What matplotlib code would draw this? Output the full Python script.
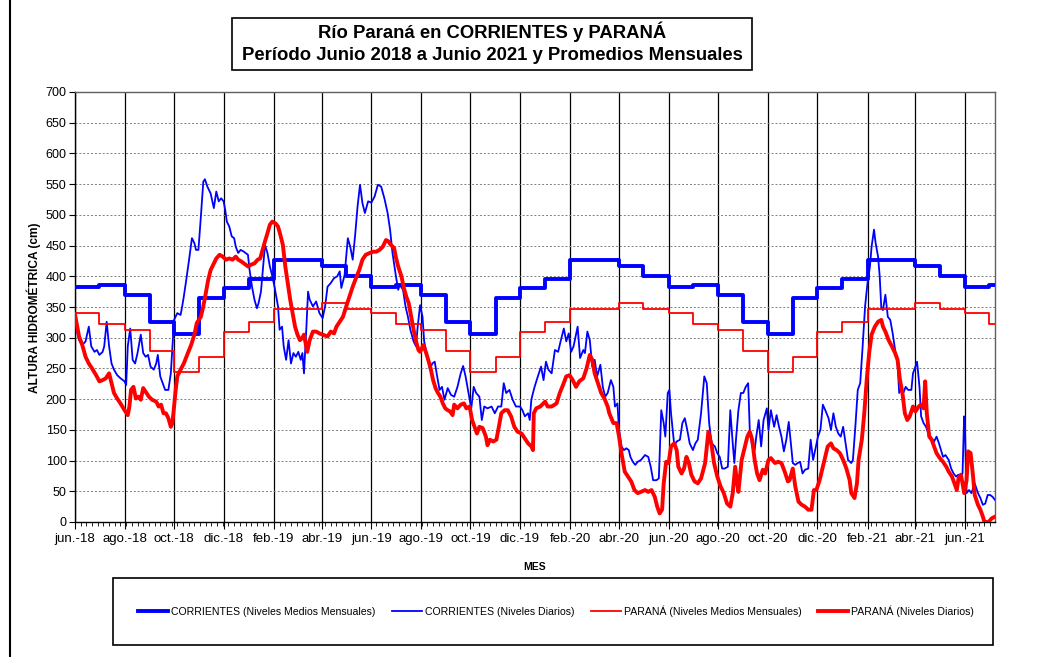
import numpy as np
import matplotlib
matplotlib.use("Agg")
import matplotlib.pyplot as plt
from matplotlib.patches import Rectangle
from matplotlib.lines import Line2D

plt.rcParams['font.family'] = ['Liberation Sans', 'DejaVu Sans']

# ---------------- data ----------------
inicio = np.datetime64('2018-06-01')
fin_dias = 1133  # last day shown (offset from inicio)

meses_abrev = ['ene', 'feb', 'mar', 'abr', 'may', 'jun', 'jul', 'ago', 'sep', 'oct', 'nov', 'dic']

# Monthly mean levels (cm) by calendar month, Jan..Dec
corrientes_medio_mensual = [396, 427, 427, 416, 400, 383, 386, 369, 326, 306, 365, 381]
parana_medio_mensual = [326, 347, 347, 356, 347, 341, 323, 312, 278, 245, 269, 309]

# Daily levels (days since 2018-06-01, level in cm)
cor_dias = [0, 5, 9, 13, 17, 20, 24, 27, 30, 34, 36, 39, 42, 45, 48, 52, 56, 61, 63, 65, 68, 71, 74, 77, 81, 84, 87, 90, 93, 97,
            100, 102, 105, 108, 111, 115, 118, 120, 122, 126, 130, 132, 134, 137, 141, 144, 147, 149, 152, 155, 158, 160, 163,
            167, 171, 174, 177, 180, 183, 185, 187, 190, 193, 196, 198, 201, 204, 208, 213, 215, 218, 221, 224, 226, 229, 231,
            234, 237, 240, 243, 246, 250, 252, 255, 257, 260, 263, 266, 269, 272, 275, 278, 280, 282, 285, 287, 289, 293, 297,
            301, 305, 308, 311, 315, 319, 323, 326, 328, 332, 334, 336, 339, 342, 345, 348, 351, 354, 357, 361, 365, 369, 373,
            377, 381, 385, 388, 391, 395, 398, 400, 404, 407, 410, 413, 417, 420, 422, 425, 428, 430, 434, 437, 440, 443, 446,
            449, 452, 455, 459, 463, 467, 471, 475, 478, 481, 484, 488, 491, 494, 498, 501, 504, 508, 513, 517, 521, 525, 528,
            531, 535, 539, 543, 548, 551, 554, 558, 560, 562, 564, 566, 570, 574, 577, 580, 583, 587, 591, 595, 598, 602, 605,
            608, 611, 614, 619, 622, 626, 628, 631, 634, 637, 640, 643, 647, 650, 653, 656, 660, 663, 665, 668, 670, 673, 676,
            679, 682, 684, 687, 690, 693, 697, 702, 706, 709, 712, 716, 719, 722, 725, 727, 730, 732, 734, 738, 741, 745, 748,
            751, 754, 757, 761, 764, 767, 771, 775, 778, 781, 784, 788, 791, 794, 797, 800, 804, 807, 810, 812, 814, 817, 820,
            823, 826, 829, 831, 834, 837, 839, 842, 845, 848, 852, 854, 857, 861, 864, 867, 870, 873, 876, 879, 882, 884, 887,
            890, 893, 896, 899, 903, 906, 909, 912, 915, 918, 921, 924, 928, 931, 934, 937, 940, 943, 946, 949, 952, 956, 958,
            961, 964, 967, 970, 973, 976, 979, 981, 984, 986, 989, 991, 993, 995, 998, 1001, 1004, 1007, 1010, 1013, 1015, 1017,
            1020, 1023, 1026, 1030, 1032, 1035, 1037, 1040, 1042, 1045, 1048, 1051, 1055, 1058, 1061, 1064, 1067, 1069, 1072,
            1076, 1079, 1082, 1085, 1088, 1091, 1093, 1095, 1096, 1098, 1101, 1104, 1108, 1112, 1115, 1118, 1121, 1124, 1127,
            1130, 1133]
cor_nivel = [324, 296, 288, 294, 318, 286, 277, 280, 272, 277, 286, 326, 286, 258, 248, 239, 234, 229, 223, 286, 315, 264, 258, 275, 305, 275, 269, 272, 253, 248,
             258, 272, 237, 226, 215, 215, 242, 286, 329, 340, 337, 351, 367, 394, 432, 462, 454, 443, 443, 497, 554, 558, 546,
             535, 511, 538, 522, 527, 522, 508, 489, 481, 465, 462, 448, 438, 443, 440, 435, 410, 383, 362, 348, 356, 375, 405,
             451, 438, 416, 400, 381, 351, 313, 318, 286, 264, 296, 258, 275, 269, 277, 264, 275, 242, 318, 375, 362, 351, 359,
             340, 332, 351, 383, 389, 397, 400, 408, 381, 402, 432, 462, 448, 427, 467, 514, 549, 519, 503, 522, 520, 530, 549,
             546, 527, 503, 476, 438, 402, 378, 386, 378, 351, 334, 313, 294, 286, 318, 353, 334, 294, 269, 248, 258, 261, 237,
             215, 220, 199, 218, 207, 204, 220, 242, 254, 237, 215, 185, 220, 210, 204, 166, 188, 185, 188, 177, 188, 188, 226,
             210, 215, 199, 188, 188, 182, 172, 177, 166, 199, 210, 220, 237, 253, 231, 261, 248, 242, 280, 277, 294, 315, 294,
             307, 277, 286, 318, 267, 280, 275, 310, 296, 253, 264, 237, 256, 220, 204, 210, 231, 220, 188, 193, 150, 123, 117,
             120, 117, 106, 98, 93, 98, 101, 109, 106, 90, 68, 68, 71, 182, 161, 139, 210, 215, 177, 125, 131, 134, 161,
             169, 150, 128, 117, 128, 134, 177, 237, 226, 161, 128, 123, 112, 106, 87, 87, 90, 182, 128, 96, 134, 182, 210,
             210, 220, 226, 150, 123, 117, 139, 166, 123, 166, 185, 150, 182, 155, 174, 155, 139, 115, 134, 163, 123, 96, 93,
             96, 98, 79, 85, 87, 134, 101, 120, 139, 150, 191, 182, 169, 150, 177, 155, 144, 139, 155, 128, 101, 96, 101,
             155, 215, 226, 286, 351, 389, 416, 448, 476, 454, 432, 400, 348, 345, 370, 334, 329, 307, 280, 258, 210, 215,
             210, 220, 215, 215, 242, 253, 261, 220, 172, 161, 155, 144, 136, 131, 139, 128, 115, 106, 109,
             101, 87, 79, 74, 77, 71, 79, 172, 155, 47, 52, 47, 63, 47, 39, 28, 30, 44, 44,
             41, 36]

par_dias = [0, 5, 9, 13, 17, 21, 26, 30, 34, 38, 42, 45, 48, 52, 56, 61, 65, 67, 69, 72, 75, 78, 81, 84, 87, 91, 95, 100, 103, 106,
            109, 112, 115, 118, 120, 122, 124, 126, 130, 134, 139, 143, 147, 150, 155, 158, 161, 164, 167, 171, 174, 178, 182,
            186, 190, 194, 198, 201, 205, 208, 213, 217, 221, 225, 228, 231, 234, 237, 240, 243, 247, 250, 253, 256, 259, 262,
            265, 268, 271, 274, 277, 280, 282, 286, 289, 293, 297, 301, 305, 311, 315, 319, 322, 326, 330, 334, 338, 342, 346,
            350, 354, 358, 363, 367, 371, 375, 379, 383, 386, 389, 393, 395, 398, 402, 405, 408, 411, 414, 417, 420, 423, 425,
            429, 432, 435, 438, 441, 444, 447, 450, 453, 456, 459, 462, 465, 467, 471, 475, 479, 482, 486, 489, 492, 495, 498,
            502, 506, 508, 511, 515, 519, 522, 525, 529, 533, 537, 541, 545, 550, 554, 558, 562, 564, 565, 568, 573, 579, 582,
            587, 593, 597, 601, 605, 609, 613, 617, 621, 626, 630, 634, 637, 640, 644, 648, 652, 656, 658, 663, 667, 670, 673,
            677, 681, 685, 689, 693, 697, 702, 706, 710, 714, 717, 720, 723, 725, 728, 731, 734, 738, 741, 743, 747, 750, 753,
            756, 759, 763, 767, 771, 776, 780, 784, 787, 791, 795, 799, 803, 807, 810, 813, 816, 817, 821, 825, 828, 831, 834,
            837, 840, 843, 847, 850, 854, 857, 862, 866, 870, 874, 878, 880, 884, 887, 891, 895, 899, 903, 907, 910, 913, 917,
            921, 924, 927, 931, 934, 938, 942, 946, 950, 954, 956, 960, 963, 965, 969, 972, 975, 978, 981, 985, 989, 993, 995,
            998, 1002, 1006, 1010, 1013, 1016, 1019, 1022, 1025, 1028, 1032, 1035, 1039, 1042, 1045, 1047, 1049, 1052, 1055,
            1058, 1061, 1065, 1069, 1073, 1076, 1080, 1083, 1086, 1088, 1091, 1093, 1095, 1098, 1100, 1103, 1106, 1108, 1112,
            1115, 1118, 1120, 1125, 1129, 1132]
par_nivel = [338, 302, 288, 269, 258, 250, 239, 229, 231, 234, 242, 226, 210, 201, 193, 182, 174, 188, 215, 220, 201, 204, 199, 218, 212, 204, 199, 196, 188, 191,
             177, 177, 169, 155, 161, 188, 215, 237, 248, 258, 275, 288, 305, 324, 334, 351, 372, 394, 410, 421, 429, 435, 432,
             427, 429, 427, 432, 427, 424, 421, 416, 419, 421, 427, 429, 443, 457, 470, 484, 489, 486, 481, 467, 451, 416, 389,
             362, 340, 318, 305, 296, 300, 305, 277, 296, 310, 310, 307, 305, 302, 310, 307, 318, 326, 334, 351, 367, 383, 397,
             410, 427, 435, 438, 440, 440, 443, 448, 459, 457, 451, 446, 432, 416, 400, 381, 367, 356, 334, 313, 294, 280, 277,
             288, 277, 264, 250, 231, 218, 210, 204, 193, 185, 182, 180, 174, 191, 185, 191, 193, 185, 188, 166, 155, 144, 155,
             153, 139, 125, 134, 131, 134, 155, 177, 182, 182, 172, 155, 147, 144, 136, 128, 123, 117, 177, 185, 188, 196, 188,
             188, 193, 210, 223, 237, 239, 231, 220, 229, 234, 250, 272, 264, 242, 226, 210, 201, 188, 177, 161, 161, 139, 112,
             82, 74, 66, 52, 47, 49, 52, 49, 52, 41, 25, 14, 20, 63, 98, 96, 123, 128, 117, 90, 79, 87, 106,
             96, 77, 66, 63, 71, 96, 147, 125, 96, 74, 58, 47, 30, 25, 47, 90, 58, 49, 101, 123, 139, 147, 134,
             101, 79, 68, 85, 79, 101, 104, 96, 98, 96, 82, 66, 68, 87, 58, 33, 28, 25, 20, 20, 52, 52, 68,
             90, 106, 123, 128, 120, 117, 112, 101, 87, 68, 47, 39, 63, 101, 134, 177, 231, 275, 305, 318, 326, 329, 318,
             310, 296, 286, 275, 264, 231, 210, 177, 166, 172, 188, 180, 188, 191, 185, 229, 177, 139, 134,
             123, 112, 104, 98, 90, 82, 74, 63, 52, 71, 77, 63, 47, 68, 115, 112, 74, 44, 28,
             20, 9, 0, 0, 6, 8]

# ---------------- derived ----------------
fin = inicio + np.timedelta64(fin_dias, 'D')
meses = np.arange(np.datetime64('2018-06'), np.datetime64('2021-08'), dtype='datetime64[M]')
mes_idx = (meses.astype(int) % 12)
cor_mens = [corrientes_medio_mensual[i] for i in mes_idx]
par_mens = [parana_medio_mensual[i] for i in mes_idx]
edges = list(meses.astype('datetime64[D]')) + [fin]
cor_step = cor_mens + [cor_mens[-1]]
par_step = par_mens + [par_mens[-1]]

cor_x = inicio + np.array(cor_dias).astype('timedelta64[D]')
par_x = inicio + np.array(par_dias).astype('timedelta64[D]')

# ---------------- figure ----------------
W, H = 1064, 657
fig = plt.figure(figsize=(W / 100, H / 100), dpi=100)
ax = fig.add_axes([75 / W, 1 - 522 / H, (995 - 75) / W, (522 - 92) / H])

blue = '#0000FF'
red = '#FF0000'
l1, = ax.step(edges, cor_step, where='post', color=blue, lw=2.8, label='CORRIENTES (Niveles Medios Mensuales)', zorder=3)
l2, = ax.plot(cor_x, cor_nivel, color=blue, lw=1.3, label='CORRIENTES (Niveles Diarios)', zorder=4)
l3, = ax.step(edges, par_step, where='post', color=red, lw=1.3, label='PARANÁ (Niveles Medios Mensuales)', zorder=5)
l4, = ax.plot(par_x, np.clip(par_nivel, 0, None), color=red, lw=2.8, label='PARANÁ (Niveles Diarios)', zorder=6)

ax.set_xlim(inicio, fin)
ax.set_ylim(0, 700)

# ticks
ticks_mayores = np.arange(np.datetime64('2018-06'), np.datetime64('2021-07'), 2, dtype='datetime64[M]')
etiquetas = [f"{meses_abrev[int(m.astype(int) % 12)]}.-{str(m)[2:4]}" for m in ticks_mayores]
ax.set_xticks(ticks_mayores.astype('datetime64[D]'))
ax.set_xticklabels(etiquetas, fontsize=9.5)
ax.set_xticks(np.arange(inicio, fin, 7), minor=True)
ax.tick_params(axis='x', which='major', length=5, width=0.8, direction='out', pad=3)
ax.tick_params(axis='x', which='minor', length=3, width=0.6, direction='out')
ax.set_yticks(np.arange(0, 701, 50))
ax.tick_params(axis='y', which='major', length=4, width=0.8, labelsize=9, pad=2)

ax.grid(axis='x', which='major', color='black', lw=0.9, ls='-')
ax.grid(axis='y', which='major', color='#808080', lw=0.7, ls=(0, (2, 2)))
ax.set_axisbelow(True)
for s in ax.spines.values():
    s.set_color('#606060')
    s.set_linewidth(1.0)
ax.spines['left'].set_color('black')
ax.spines['bottom'].set_color('black')

ax.set_xlabel('MES', fontsize=7.5, fontweight='bold', labelpad=12)
fig.text(34 / W, 1 - 308 / H, 'ALTURA HIDROMÉTRICA (cm)', rotation=90, fontsize=8.6, fontweight='bold',
         ha='center', va='center')

# title box
fig.patches.append(Rectangle((232 / W, 1 - 70 / H), (752 - 232) / W, (70 - 18) / H,
                             transform=fig.transFigure, fill=False, edgecolor='black', lw=1.2))
fig.text(492 / W, 1 - 32 / H, 'Río Paraná en CORRIENTES y PARANÁ', fontsize=13.3, fontweight='bold',
         ha='center', va='center')
fig.text(492 / W, 1 - 55 / H, 'Período Junio 2018 a Junio 2021 y Promedios Mensuales', fontsize=13.3,
         fontweight='bold', ha='center', va='center')

# legend box
fig.patches.append(Rectangle((113 / W, 1 - 645 / H), (993 - 113) / W, (645 - 578) / H,
                             transform=fig.transFigure, fill=False, edgecolor='black', lw=1.2))
fig.legend(handles=[l1, l2, l3, l4], loc='center', bbox_to_anchor=(556 / W, 1 - 611 / H), ncol=4,
           frameon=False, fontsize=7.6, handlelength=2.8, handletextpad=0.3, columnspacing=1.6)

# outer border line on the left
fig.add_artist(Line2D([10 / W, 10 / W], [0, 1], transform=fig.transFigure, color='black', lw=1.5))

fig.savefig('out.png', dpi=100)
